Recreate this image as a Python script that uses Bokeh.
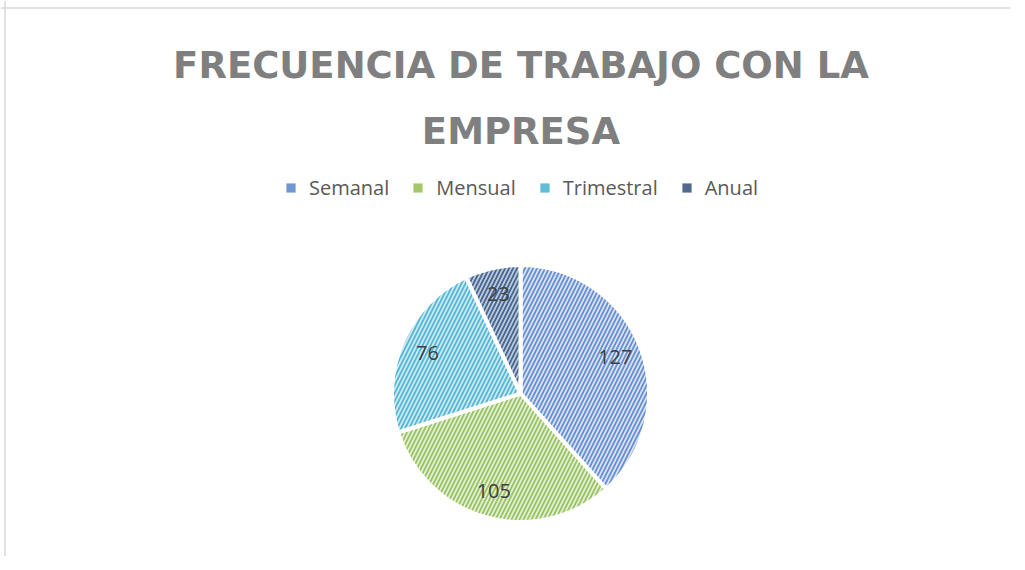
import math
from bokeh.plotting import figure
from bokeh.models import Range1d, ColumnDataSource, Label, Legend, LegendItem, Span
from bokeh.embed import file_html
from bokeh.resources import INLINE
from bokeh.core.properties import value

# ---- data ----
categories = ["Semanal", "Mensual", "Trimestral", "Anual"]
counts = [127, 105, 76, 23]
fill_colors = ["#d9e3f3", "#e6efd8", "#cdeaf2", "#bccadc"]
hatch_colors = ["#6990d0", "#98c462", "#55b8d3", "#48668f"]
legend_colors = ["#7096d4", "#a3c86a", "#5fbdd8", "#52698f"]
title_lines = ["FRECUENCIA DE TRABAJO CON LA", "EMPRESA"]

# ---- layout (pixels) ----
W, H = 1010, 556
CX, CY, R = 520, H - 393, 128.5
LABEL_FRAC = 0.79

total = sum(counts)
starts, ends, lx, ly = [], [], [], []
acc = 0
for c in counts:
    a0 = math.pi / 2 - 2 * math.pi * acc / total
    acc += c
    a1 = math.pi / 2 - 2 * math.pi * acc / total
    starts.append(a0)
    ends.append(a1)
    mid = (a0 + a1) / 2
    lx.append(CX + LABEL_FRAC * R * math.cos(mid))
    ly.append(CY + LABEL_FRAC * R * math.sin(mid))

src = ColumnDataSource(dict(
    cat=categories, count=counts, start=starts, end=ends,
    fill=fill_colors, hatch=hatch_colors,
    lx=lx, ly=ly, txt=[str(c) for c in counts],
))

p = figure(width=W, height=H, output_backend="svg", toolbar_location=None,
           x_range=Range1d(0, W), y_range=Range1d(0, H), min_border=0,
           background_fill_color="white", border_fill_color="white")
p.axis.visible = False
p.xgrid.visible = False
p.ygrid.visible = False
p.outline_line_color = None

wedges = p.wedge(x=CX, y=CY, radius=R, start_angle="start", end_angle="end",
                 direction="clock", source=src,
                 fill_color="fill", hatch_pattern="/", hatch_color="hatch",
                 hatch_scale=8, hatch_weight=1.8,
                 line_color="white", line_width=4)

p.text(x="lx", y="ly", text="txt", source=src,
       text_font=value("Open Sans"), text_font_size="20px",
       text_color="#404040", text_align="center", text_baseline="middle")

# legend swatches (legend-only renderers, not drawn in the plot area)
swatches = []
for col in legend_colors:
    r = p.scatter(x=[CX], y=[CY], marker="square", fill_color=col,
                  line_color=None, visible=False)
    swatches.append(r)

# title
for line, ybase in zip(title_lines, [H - 65, H - 131]):
    p.add_layout(Label(x=520.5, y=ybase, text=line, text_align="center",
                       text_baseline="alphabetic",
                       text_font="DejaVu Sans", text_font_style="bold",
                       text_font_size="37px", text_color="#7f7f7f"))

legend = Legend(
    items=[LegendItem(label=categories[i], renderers=[swatches[i]])
           for i in range(len(categories))],
    orientation="horizontal", location=(279, 355),
    glyph_width=23, glyph_height=23, label_standoff=7, spacing=17,
    padding=0, margin=0, border_line_alpha=0, background_fill_alpha=0,
    label_text_font="Open Sans", label_text_font_size="20px",
    label_text_color="#595959", label_text_baseline="middle",
)
p.add_layout(legend)

# chart-area border (top and left edges visible)
p.add_layout(Span(location=4.5, dimension="height", line_color="#d9d9d9", line_width=1.5))
p.add_layout(Span(location=H - 7.5, dimension="width", line_color="#d9d9d9", line_width=1.5))

open("out.html", "w").write(file_html(p, INLINE))
